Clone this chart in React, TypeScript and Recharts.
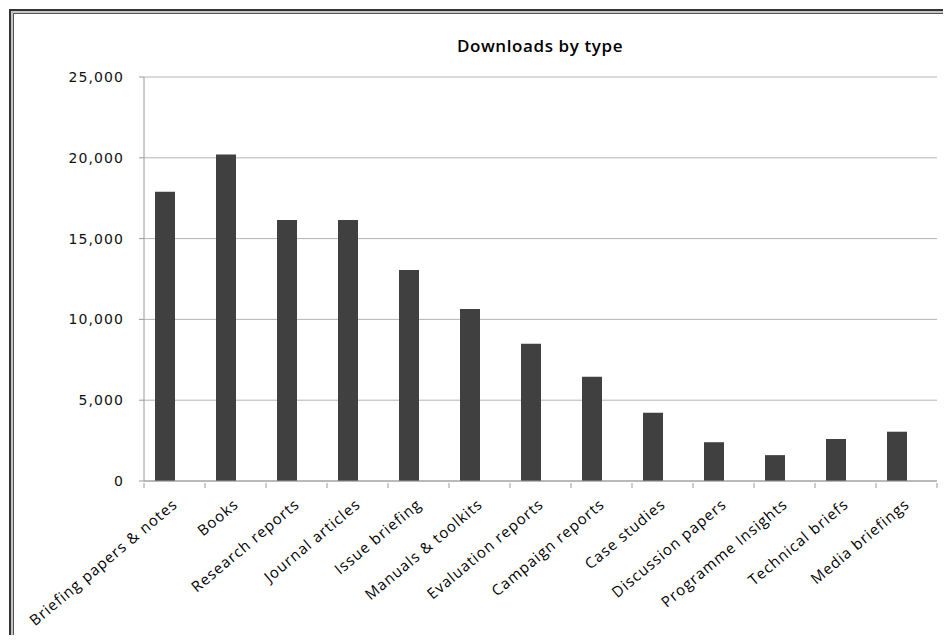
import { Bar, BarChart, CartesianGrid, XAxis, YAxis } from 'recharts'

const categories = [
  'Briefing papers & notes',
  'Books',
  'Research reports',
  'Journal articles',
  'Issue briefing',
  'Manuals & toolkits',
  'Evaluation reports',
  'Campaign reports',
  'Case studies',
  'Discussion papers',
  'Programme Insights',
  'Technical briefs',
  'Media briefings',
]

const downloads = [17900, 20200, 16150, 16150, 13050, 10650, 8500, 6450, 4230, 2400, 1600, 2600, 3050]

// empty second series, keeps the bar on the left half of each category like the original
const otherDownloads: (number | null)[] = categories.map(() => null)

const yTicks = [0, 5000, 10000, 15000, 20000, 25000]

const data = categories.map((name, i) => ({
  name,
  downloads: downloads[i],
  other: otherDownloads[i],
}))

const AXIS = '#9a9a9a'
const GRID = '#b4b4b4'
const BAR = '#404040'

function CategoryTick(props: any) {
  const { x, y, payload, index } = props
  const half = payload?.offset || 793 / 13 / 2
  const tx = x + 4
  const ty = y + 23
  return (
    <g>
      <line x1={x - half} x2={x - half} y1={y} y2={y + 5} stroke={AXIS} />
      {index === categories.length - 1 && (
        <line x1={x + half} x2={x + half} y1={y} y2={y + 5} stroke={AXIS} />
      )}
      <text
        x={tx}
        y={ty}
        textAnchor="end"
        transform={`rotate(-40, ${tx}, ${ty})`}
        fontFamily="'Open Sans', sans-serif"
        fontSize={15}
        letterSpacing={1}
        fill="#000"
      >
        {payload.value}
      </text>
    </g>
  )
}

export default function App() {
  return (
    <div style={{ position: 'relative', width: 935, height: 627, background: '#fff', overflow: 'hidden' }}>
      <style>{'html, body { overflow: hidden; }'}</style>
      <div
        style={{
          position: 'absolute',
          left: 1,
          top: 1,
          width: 934,
          height: 626,
          boxSizing: 'border-box',
          borderLeft: '2px solid #333',
          borderTop: '2px solid #333',
        }}
      >
        <div
          style={{
            width: '100%',
            height: '100%',
            boxSizing: 'border-box',
            borderLeft: '2px solid #c4c4c4',
            borderTop: '2px solid #c4c4c4',
          }}
        >
          <div
            style={{
              width: '100%',
              height: '100%',
              boxSizing: 'border-box',
              borderLeft: '1px solid #555',
              borderTop: '1px solid #555',
            }}
          />
        </div>
      </div>
      <div
        style={{
          position: 'absolute',
          left: 382,
          top: 26,
          width: 300,
          textAlign: 'center',
          whiteSpace: 'nowrap',
          fontFamily: "'Open Sans', sans-serif",
          fontWeight: 600,
          fontSize: 17,
          letterSpacing: 0.6,
          color: '#000',
        }}
      >
        Downloads by type
      </div>
      <div style={{ position: 'absolute', left: 0, top: 0 }}>
        <BarChart
          width={935}
          height={627}
          data={data}
          margin={{ top: 69, right: 6, left: 0, bottom: 0 }}
          barGap={0}
        >
          <CartesianGrid horizontal vertical={false} stroke={GRID} />
          <XAxis
            dataKey="name"
            interval={0}
            height={154}
            tickSize={0}
            tickLine={false}
            axisLine={{ stroke: AXIS }}
            tick={<CategoryTick />}
          />
          <YAxis
            width={136}
            domain={[0, 25000]}
            ticks={yTicks}
            tickSize={5}
            tickMargin={15}
            tickLine={{ stroke: AXIS }}
            axisLine={{ stroke: AXIS }}
            tickFormatter={(v: number) => v.toLocaleString('en-US')}
            tick={{
              fill: '#111',
              fontSize: 14,
              fontFamily: "'DejaVu Sans', sans-serif",
              letterSpacing: 1.1,
            }}
          />
          <Bar dataKey="downloads" fill={BAR} barSize={20} isAnimationActive={false} />
          <Bar dataKey="other" fill={BAR} barSize={20} isAnimationActive={false} />
        </BarChart>
      </div>
    </div>
  )
}
